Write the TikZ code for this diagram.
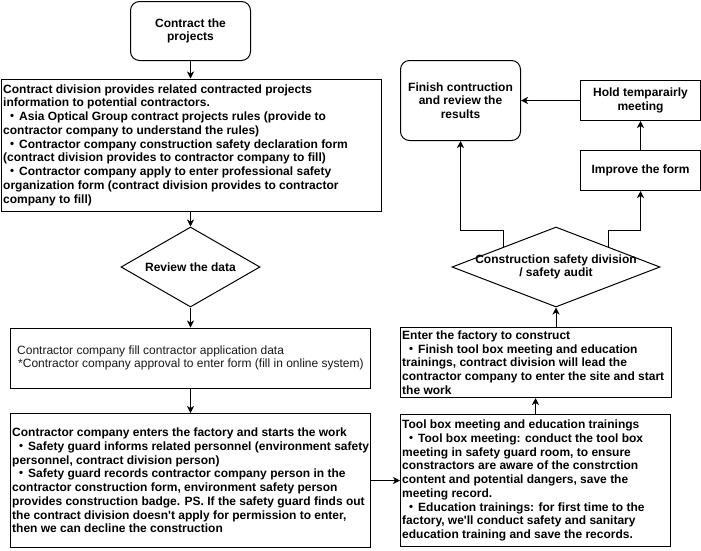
\documentclass[tikz,border=0pt]{standalone}
\usepackage{fontspec}
\setmainfont{Liberation Sans}[Ligatures=TeXOff]
\newfontfamily\cjkfont{Noto Sans CJK JP}
\usetikzlibrary{shapes.geometric,arrows.meta,calc}
\newcommand\mybul{\hspace*{3pt}{\cjkfont ・}\hspace{1pt}}
\begin{document}
\begin{tikzpicture}[x=1pt,y=-1pt,
  boxs/.style={draw=black, line width=1pt, inner sep=0pt, fill=white},
  rbox/.style={boxs, rounded corners=9pt},
  dia/.style={boxs, diamond},
  tx/.style={font=\fontsize{12}{13.75}\selectfont\bfseries, align=left, inner sep=0pt, anchor=west},
  ctx/.style={font=\fontsize{12}{13.75}\selectfont\bfseries, align=center, inner sep=0pt},
  arr/.style={-{Stealth[length=7pt,width=7pt,inset=2pt]}, line width=1pt}]
\fill[white] (0,0) rectangle (701,550);
\useasboundingbox (0,0) rectangle (701,550);

% left column
\node[rbox, minimum width=120pt, minimum height=59pt] (start) at (190.5,31) {};
\node[ctx] (startt) at (start.center) {Contract the\\projects};

\node[boxs, minimum width=380pt, minimum height=132pt, anchor=north west] (info) at (1,78.5) {};
\node[tx] (infot) at ($(info.west)+(2,0)$) {Contract division provides related contracted projects\\information to potential contractors.\\\mybul Asia Optical Group contract projects rules (provide to\\contractor company to understand the rules)\\\mybul Contractor company construction safety declaration form\\(contract division provides to contractor company to fill)\\\mybul Contractor company apply to enter professional safety\\organization form (contract division provides to contractor\\company to fill)};

\node[dia, minimum width=139pt, minimum height=80pt] (d1) at (190.5,267) {};
\node[ctx] (d1t) at (d1.center) {Review the data};

\node[boxs, minimum width=360pt, minimum height=60pt, anchor=north west] (apply) at (10,327.5) {};
\node[tx, font=\fontsize{12}{13.75}\selectfont, text=black!90] (applyt) at ($(apply.west)+(4,0)$) {\hspace*{3pt}Contractor company fill contractor application data\\\hspace*{4pt}*Contractor company approval to enter form (fill in online system)};

\node[boxs, minimum width=360pt, minimum height=134pt, anchor=north west] (work) at (10,413) {};
\node[tx] (workt) at ($(work.west)+(2,0)$) {Contractor company enters the factory and starts the work\\\mybul Safety guard informs related personnel (environment safety\\personnel, contract division person)\\\mybul Safety guard records contractor company person in the\\contractor construction form, environment safety person\\provides construction badge. PS. If the safety guard finds out\\the contract division doesn't apply for permission to enter,\\then we can decline the construction};

% right column
\node[boxs, minimum width=270pt, minimum height=132pt, anchor=north west] (tool) at (400,414) {};
\node[tx] (toolt) at ($(tool.west)+(2,0)$) {Tool box meeting and education trainings\\\mybul Tool box meeting: conduct the tool box\\meeting in safety guard room, to ensure\\constractors are aware of the constrction\\content and potential dangers, save the\\meeting record.\\\mybul Education trainings: for first time to the\\factory, we'll conduct safety and sanitary\\education training and save the records.};

\node[boxs, minimum width=271pt, minimum height=70pt, anchor=north west] (enter) at (400,327) {};
\node[tx] (entert) at ($(enter.west)+(2,0)$) {Enter the factory to construct\\\mybul Finish tool box meeting and education\\trainings, contract division will lead the\\contractor company to enter the site and start\\the work};

\node[dia, minimum width=208pt, minimum height=80pt] (d2) at (556,267) {};
\node[ctx] (d2t) at (d2.center) {Construction safety division\\/ safety audit};

\node[rbox, minimum width=120pt, minimum height=80pt, anchor=north west] (finish) at (400,60) {};
\node[ctx] (finisht) at (finish.center) {Finish contruction\\and review the\\results};

\node[boxs, minimum width=120pt, minimum height=40pt, anchor=north west] (hold) at (580,80) {};
\node[ctx] (holdt) at (hold.center) {Hold temparairly\\meeting};

\node[boxs, minimum width=120pt, minimum height=40pt, anchor=north west] (improve) at (580,150) {};
\node[ctx] (improvet) at (improve.center) {Improve the form};

% connectors
\draw[arr] (start.south) -- (start.south |- info.north);
\draw[arr] (d1.north |- info.south) -- (d1.north);
\draw[arr] (d1.south) -- (d1.south |- apply.north);
\draw[arr] (apply.south) -- (apply.south |- work.north);
\draw[arr] (work.east) -- (work.east -| tool.west);
\draw[arr] (tool.north) -- (tool.north |- enter.south);
\draw[arr] (d2.south |- enter.north) -- (d2.south);
\coordinate (lvl) at (0,230);
\coordinate (e1) at ($(d2.west)!0.5!(d2.north)$);
\coordinate (e2) at ($(d2.east)!0.5!(d2.north)$);
\draw[arr] (e1) -- (e1 |- lvl) -- (finish.south |- lvl) -- (finish.south);
\draw[arr] (e2) -- (e2 |- lvl) -- (improve.south |- lvl) -- (improve.south);
\draw[arr] (improve.north) -- (hold.south);
\draw[arr] (hold.west) -- (finish.east);
\end{tikzpicture}
\end{document}
